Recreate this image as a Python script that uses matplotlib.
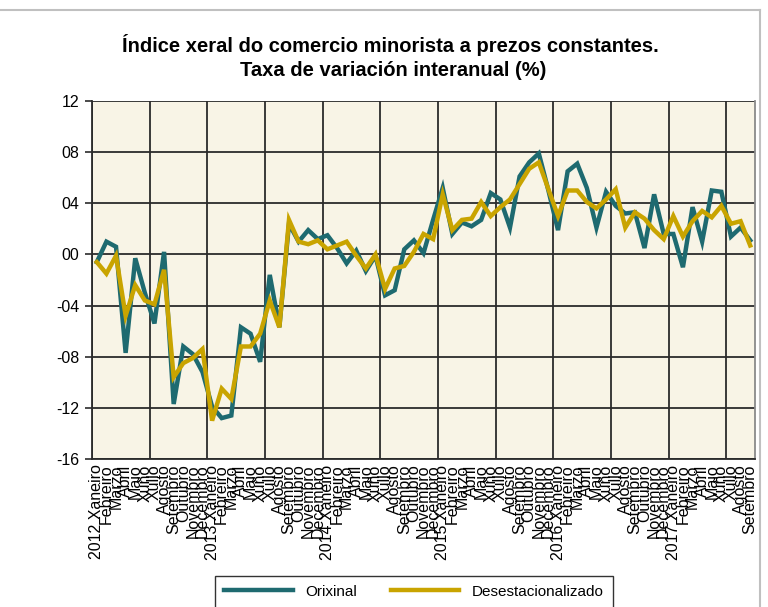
import matplotlib
matplotlib.use("Agg")
import matplotlib.pyplot as plt
from matplotlib.lines import Line2D
import numpy as np

years = [2012, 2013, 2014, 2015, 2016, 2017]
months = ["Xaneiro", "Febreiro", "Marzo", "Abril", "Maio", "Xuño", "Xullo",
          "Agosto", "Setembro", "Outubro", "Novembro", "Decembro"]

orixinal = [-0.6, 1.0, 0.6, -7.7, -0.3, -3.0, -5.4, 0.2, -11.7, -7.2, -7.8, -9.2,
            -11.9, -12.8, -12.6, -5.7, -6.2, -8.4, -1.6, -5.7, 2.4, 1.0, 1.9, 1.2,
            1.5, 0.5, -0.7, 0.3, -1.3, -0.1, -3.2, -2.8, 0.4, 1.1, 0.1, 2.7,
            5.2, 1.6, 2.5, 2.2, 2.7, 4.8, 4.3, 2.1, 6.1, 7.2, 7.9, 5.0,
            1.9, 6.5, 7.1, 5.2, 2.1, 4.9, 3.8, 3.2, 3.3, 0.5, 4.7, 1.6,
            1.6, -1.0, 3.7, 1.0, 5.0, 4.9, 1.4, 2.1, 1.1]

desestacionalizado = [-0.6, -1.5, -0.1, -4.8, -2.4, -3.6, -3.9, -1.2, -9.6, -8.5, -8.1, -7.4,
                      -13.0, -10.5, -11.3, -7.2, -7.2, -6.2, -3.6, -5.7, 2.7, 1.0, 0.8, 1.1,
                      0.4, 0.7, 1.0, -0.1, -1.1, 0.0, -2.7, -1.1, -0.9, 0.2, 1.6, 1.2,
                      4.7, 1.9, 2.7, 2.8, 4.1, 3.0, 3.7, 4.3, 5.5, 6.7, 7.2, 5.1,
                      3.0, 5.0, 5.0, 4.1, 3.6, 4.3, 5.1, 2.1, 3.3, 2.8, 1.9, 1.2,
                      3.0, 1.4, 2.6, 3.4, 2.9, 3.8, 2.4, 2.6, 0.7]

yticks = [12, 8, 4, 0, -4, -8, -12, -16]
ytick_labels = ["12", "08", "04", "00", "-04", "-08", "-12", "-16"]

n = len(orixinal)
labels = []
for k in range(n):
    y = years[k // 12]
    m = months[k % 12]
    labels.append(f"{y} {m}" if k % 12 == 0 else m)

plt.rcParams['font.family'] = ['Liberation Sans', 'DejaVu Sans']

fig = plt.figure(figsize=(7.68, 6.07), dpi=100)
fig.patch.set_facecolor("white")
ax = fig.add_axes([92/768, 1-459/607, (755-92)/768, (459-101)/607])
ax.set_facecolor("#F8F4E6")

teal = "#1E6A70"
gold = "#C9A400"
x = np.arange(n)
ax.plot(x, orixinal, color=teal, lw=3.2, solid_joinstyle='miter', zorder=3)
ax.plot(x, desestacionalizado, color=gold, lw=3.2, solid_joinstyle='miter', zorder=4)

ax.set_xlim(-0.5, n - 0.5)
ax.set_ylim(-16, 12)
ax.set_yticks(yticks)
ax.set_yticklabels(ytick_labels, fontsize=11.5)

# gridlines
for gy in yticks:
    ax.axhline(gy, color="#2b2b2b", lw=1.3, zorder=1)
for gx in np.arange(-0.5, n, 6):
    ax.axvline(gx, color="#2b2b2b", lw=1.3, zorder=1)

ax.set_xticks(x)
ax.set_xticklabels(labels, rotation=90, fontsize=11.5, va='top', ha='center')
ax.tick_params(axis='x', length=0, pad=4)
ax.tick_params(axis='y', length=5, width=1.2, color="#2b2b2b", pad=4)

ax.spines['top'].set_visible(False)
ax.spines['left'].set_color("#2b2b2b")
ax.spines['left'].set_linewidth(1.3)
ax.spines['bottom'].set_color("#2b2b2b")
ax.spines['bottom'].set_linewidth(1.3)
ax.spines['right'].set_color("#8a8a8a")
ax.spines['right'].set_linewidth(1.3)

title_fam = ['Liberation Sans Narrow', 'Liberation Sans', 'DejaVu Sans']
fig.text(390/768, 1-45/607, "Índice xeral do comercio minorista a prezos constantes.",
         ha='center', va='center', fontsize=14.5, fontweight='bold', family=title_fam)
fig.text(393/768, 1-70/607, "Taxa de variación interanual (%)",
         ha='center', va='center', fontsize=14.5, fontweight='bold', family=title_fam)

# outer chart frame
fig.add_artist(Line2D([0, 760/768], [1-10/607, 1-10/607], transform=fig.transFigure,
                      color="#c0c0c0", lw=1.5))
fig.add_artist(Line2D([760/768, 760/768], [0, 1-10/607], transform=fig.transFigure,
                      color="#c0c0c0", lw=1.5))

handles = [Line2D([], [], color=teal, lw=3.2), Line2D([], [], color=gold, lw=3.2)]
leg = fig.legend(handles, ["Orixinal", "Desestacionalizado"], ncol=2,
                 loc='upper center', bbox_to_anchor=(414/768, 1-568/607),
                 fontsize=11, frameon=True, fancybox=False, handlelength=4.5,
                 columnspacing=2.2, borderpad=0.6)
leg.get_frame().set_edgecolor("#000000")
leg.get_frame().set_linewidth(1.0)

fig.savefig("out.png", dpi=100, facecolor="white")
